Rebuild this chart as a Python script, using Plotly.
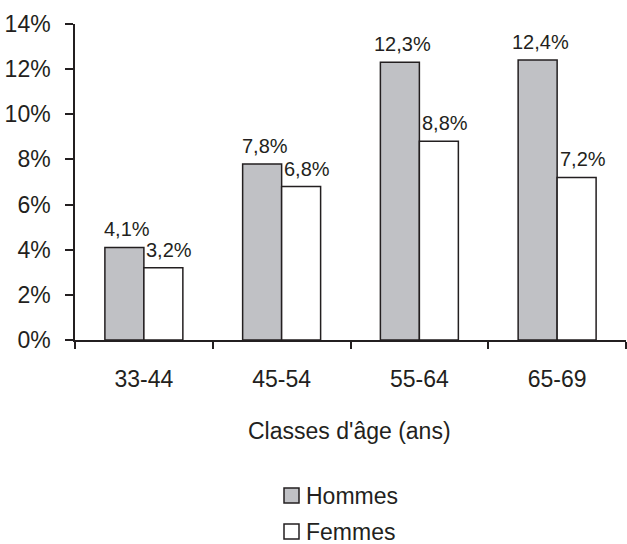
import plotly.graph_objects as go

categories = ["33-44", "45-54", "55-64", "65-69"]
hommes = [4.1, 7.8, 12.3, 12.4]
femmes = [3.2, 6.8, 8.8, 7.2]
y_ticks = [0, 2, 4, 6, 8, 10, 12, 14]
series_names = ["Hommes", "Femmes"]

FONT = "Liberation Sans, Arial, sans-serif"
INK = "#231F20"
GREY = "#C0C1C5"

# plot area in pixels (used to place the legend drawn by hand)
W, H = 627, 544
L, R, T, B = 75, 1, 24, 204
PW, PH = W - L - R, H - T - B


def px_x(p):
    return (p - L) / PW


def px_y(p):
    return (H - B - p) / PH


def fmt(v):
    return f"{v:.1f}".replace(".", ",") + "%"


fig = go.Figure()
for name, vals, colour in [(series_names[0], hommes, GREY), (series_names[1], femmes, "#FFFFFF")]:
    fig.add_trace(go.Bar(
        name=name, x=categories, y=vals,
        marker=dict(color=colour, line=dict(color=INK, width=1.5)),
        showlegend=False,
    ))

annotations = []
# value labels above the bars
bar_px = PW / len(categories) * (1 - 0.434) / 2
for vals, offset in [(hommes, -bar_px / 2 + 3), (femmes, bar_px / 2 + 6)]:
    for c, v in zip(categories, vals):
        annotations.append(dict(
            x=c, y=v, xref="x", yref="y", text=fmt(v), showarrow=False,
            xanchor="center", yanchor="bottom", xshift=offset, yshift=5,
            font=dict(size=20, color=INK),
        ))

annotations.append(dict(
    text="Classes d'âge (ans)", xref="paper", yref="paper",
    x=px_x(349), y=px_y(431), xanchor="center", yanchor="middle",
    showarrow=False, font=dict(size=23, color=INK),
))

# legend: swatch + label
shapes = []
for name, colour, top, mid in [(series_names[0], GREY, 488, 496), (series_names[1], "#FFFFFF", 524, 532)]:
    shapes.append(dict(
        type="rect", xref="paper", yref="paper",
        x0=px_x(284), x1=px_x(299), y0=px_y(top + 15), y1=px_y(top),
        fillcolor=colour, line=dict(color=INK, width=1.5), layer="above",
    ))
    annotations.append(dict(
        text=name, xref="paper", yref="paper", x=px_x(304), y=px_y(mid),
        xanchor="left", yanchor="middle", showarrow=False,
        font=dict(size=23, color=INK),
    ))

fig.update_layout(
    width=W, height=H,
    margin=dict(l=L, r=R, t=T, b=B, autoexpand=False),
    paper_bgcolor="white", plot_bgcolor="white",
    barmode="group", bargap=0.434, bargroupgap=0,
    font=dict(family=FONT, size=23, color=INK),
    showlegend=False,
    xaxis=dict(
        showline=True, linecolor=INK, linewidth=1.5,
        ticks="outside", ticklen=7, tickcolor=INK, tickwidth=1.5,
        tickson="boundaries", showgrid=False,
        tickfont=dict(size=23, color=INK), ticklabelstandoff=18,
    ),
    yaxis=dict(
        range=[0, 14], tickvals=y_ticks, ticktext=[f"{v}%" for v in y_ticks],
        showline=True, linecolor=INK, linewidth=1.5,
        ticks="outside", ticklen=8, tickcolor=INK, tickwidth=1.5,
        showgrid=False, zeroline=False,
        tickfont=dict(size=23, color=INK), ticklabelstandoff=10,
    ),
    annotations=annotations,
    shapes=shapes,
)

fig.write_html("out.html")
